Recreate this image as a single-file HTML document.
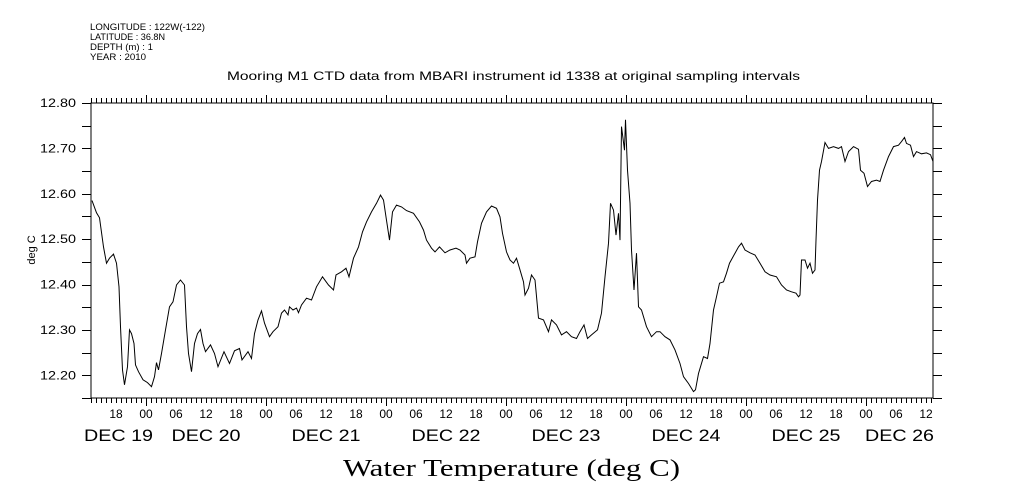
<!DOCTYPE html>
<html><head><meta charset="utf-8"><style>
html,body{margin:0;padding:0;background:#fff;}
svg{display:block;}
text{font-family:"Liberation Sans",sans-serif;fill:#000;}
</style></head><body>
<svg id="chart" width="1009" height="504" viewBox="0 0 1009 504" xmlns="http://www.w3.org/2000/svg">
<g font-size="9">
<text x="90" y="30" textLength="115" lengthAdjust="spacingAndGlyphs">LONGITUDE : 122W(-122)</text>
<text x="90" y="40" textLength="75" lengthAdjust="spacingAndGlyphs">LATITUDE : 36.8N</text>
<text x="90" y="50" textLength="63" lengthAdjust="spacingAndGlyphs">DEPTH (m) : 1</text>
<text x="90" y="60" textLength="56" lengthAdjust="spacingAndGlyphs">YEAR : 2010</text>
</g>
<text x="227" y="80" font-size="12" textLength="573" lengthAdjust="spacingAndGlyphs">Mooring M1 CTD data from MBARI instrument id 1338 at original sampling intervals</text>
<text x="343" y="476" font-size="24" textLength="337" lengthAdjust="spacingAndGlyphs" style="font-family:'Liberation Serif',serif">Water Temperature (deg C)</text>
<text transform="translate(35,250) rotate(-90)" font-size="11" text-anchor="middle">deg C</text>
<rect x="91" y="103" width="842" height="295" fill="none" stroke="#000" stroke-width="1"/>
<g id="axes"></g>
<path id="line" fill="none" stroke="#000" stroke-width="1"/>
</svg>
<script>
const hours = [0.2,1.1,1.7,2.5,3.1,3.7,4.5,5.1,5.6,5.9,6.3,6.7,7.3,7.7,8.1,8.6,8.9,9.5,10.4,11.3,12.1,12.7,13.1,13.5,14.1,14.9,15.7,16.4,17.1,17.9,18.7,19.1,19.5,20.1,20.7,21.3,21.9,22.4,22.9,23.9,24.7,25.4,26.6,27.7,28.7,29.7,30.2,31.4,32.1,32.7,33.4,34.1,34.7,35.7,36.4,37.4,38.1,38.7,39.4,39.7,40.4,41.1,41.5,42.1,43.1,
44.1,45.1,46.3,47.5,48.5,49.0,50.1,51.0,51.6,52.5,53.5,54.3,55.1,56.1,57.1,57.9,58.5,59.0,59.7,60.3,61.1,62.1,63.1,64.5,65.7,66.5,67.1,68.1,68.8,69.7,70.8,71.8,73.0,73.8,74.8,75.1,75.8,76.8,77.3,78.1,79.1,80.1,81.1,81.8,82.3,83.1,83.8,84.5,85.1,85.7,
86.5,86.8,87.5,88.1,88.8,89.5,90.5,91.5,92.1,93.1,94.1,95.1,96.1,97.1,97.8,98.6,99.3,100.1,101.3,102.1,102.8,103.5,103.9,104.5,105.0,105.5,105.8,106.1,106.7,106.9,107.3,107.8,108.1,108.6,109.1,109.5,110.1,111.1,112.1,113.1,113.8,114.8,115.8,116.8,117.8,118.5,119.5,120.5,120.9,121.5,122.5,123.3,123.8,124.5,125.1,125.7,126.5,127.1,127.7,
128.8,129.5,130.1,130.8,131.8,132.8,133.8,134.8,135.8,137.1,138.1,139.1,140.1,141.0,141.5,141.8,142.1,142.8,143.3,143.8,144.3,144.8,145.0,145.3,145.7,146.1,146.8,147.5,148.5,149.5,150.1,150.8,151.5,152.5,153.5,153.9,154.6,155.3,156.1,157.1,157.8,158.5,159.5,160.5,161.5,162.1,162.7,163.1,163.9,164.5,165.1,166.1,167.1,167.9,168.4];
const temps = [12.585,12.558,12.547,12.483,12.447,12.458,12.467,12.447,12.395,12.307,12.212,12.179,12.219,12.300,12.292,12.270,12.223,12.208,12.190,12.184,12.175,12.197,12.228,12.212,12.248,12.300,12.351,12.362,12.399,12.410,12.399,12.307,12.248,12.208,12.270,12.292,12.301,12.270,12.252,12.267,12.248,12.219,12.252,12.226,12.254,12.259,12.234,12.252,12.237,12.292,12.322,12.342,12.315,12.285,12.296,12.307,12.337,12.344,12.333,12.351,12.344,12.348,12.338,12.355,12.370,
12.366,12.395,12.417,12.399,12.388,12.421,12.428,12.436,12.417,12.458,12.483,12.516,12.538,12.560,12.579,12.597,12.586,12.549,12.498,12.560,12.575,12.571,12.563,12.557,12.538,12.520,12.498,12.480,12.472,12.483,12.470,12.476,12.480,12.476,12.465,12.447,12.458,12.461,12.494,12.535,12.560,12.573,12.568,12.549,12.513,12.472,12.454,12.447,12.458,12.436,
12.406,12.377,12.392,12.421,12.410,12.326,12.322,12.296,12.322,12.311,12.289,12.296,12.285,12.281,12.296,12.311,12.281,12.289,12.300,12.337,12.417,12.491,12.579,12.564,12.509,12.557,12.498,12.748,12.696,12.763,12.652,12.579,12.476,12.388,12.469,12.351,12.344,12.307,12.285,12.296,12.296,12.285,12.278,12.256,12.226,12.197,12.182,12.164,12.168,12.204,12.241,12.237,12.270,12.344,12.373,12.403,12.406,12.425,12.447,
12.469,12.483,12.491,12.476,12.470,12.465,12.447,12.428,12.421,12.417,12.399,12.388,12.384,12.381,12.373,12.377,12.454,12.454,12.436,12.447,12.425,12.432,12.498,12.586,12.652,12.671,12.713,12.700,12.704,12.700,12.704,12.671,12.693,12.704,12.698,12.652,12.645,12.616,12.627,12.630,12.627,12.652,12.682,12.704,12.707,12.715,12.724,12.711,12.707,12.682,12.693,12.688,12.690,12.686,12.671];
const yTickLabels = ["12.20","12.30","12.40","12.50","12.60","12.70","12.80"];
const hourLabels = ["18","00","06","12"];
const dayLabels = ["DEC 19","DEC 20","DEC 21","DEC 22","DEC 23","DEC 24","DEC 25","DEC 26"];

const X0=91, X1=933, Y0=398, Y1=103, HMAX=168.4, VMIN=12.15, VMAX=12.80, START_CLOCK=13;
function xs(h){return X0+(h/HMAX)*(X1-X0);}
function ys(v){return Y0-(v-VMIN)/(VMAX-VMIN)*(Y0-Y1);}
const NS="http://www.w3.org/2000/svg";
const axes=document.getElementById('axes');
function mk(tag,attrs){const e=document.createElementNS(NS,tag);for(const k in attrs)e.setAttribute(k,attrs[k]);axes.appendChild(e);return e;}

for(let v=12.15;v<=12.8001;v+=0.05){
  const y=Math.round(ys(v))+0.5;
  const l=mk('line',{x1:X0-9,x2:X0,y1:y,y2:y,stroke:'#000'});
  
  
  const r=mk('line',{x1:X1,x2:X1+9,y1:y,y2:y,stroke:'#000'});
  
  
}
yTickLabels.forEach(s=>{
  const t=mk('text',{x:40,y:ys(parseFloat(s))+4,'font-size':12,textLength:36,lengthAdjust:'spacingAndGlyphs'});
  t.textContent=s;
  
  
});
for(let h=0;h<=HMAX;h++){
  const x=Math.round(xs(h))+0.5;
  const clock=(START_CLOCK+h)%24;
  const len=clock===0?8:5;
  const b=mk('line',{x1:x,x2:x,y1:Y0,y2:Y0+len,stroke:'#000'});
  
  
  const t=mk('line',{x1:x,x2:x,y1:Y1-len,y2:Y1,stroke:'#000'});
  
  
  const lab=String(clock).padStart(2,'0');
  if(clock%6===0 && hourLabels.includes(lab)){
    const tx=mk('text',{x:xs(h),y:418,'font-size':12,'text-anchor':'middle'});
    tx.textContent=lab;
    
    
  }
}
dayLabels.forEach((d,i)=>{
  const s=Math.max(0,i*24-START_CLOCK), e=Math.min(HMAX,(i+1)*24-START_CLOCK);
  const cx=xs((s+e)/2);
  const tx=mk('text',{x:cx-34.5,y:441,'font-size':17,textLength:69,lengthAdjust:'spacingAndGlyphs'});
  tx.textContent=d;
  
  
});
let dstr='';
hours.forEach((h,i)=>{dstr+=(i?'L':'M')+xs(h).toFixed(1)+','+ys(temps[i]).toFixed(1);});
document.getElementById('line').setAttribute('d',dstr);
</script>
</body></html>
